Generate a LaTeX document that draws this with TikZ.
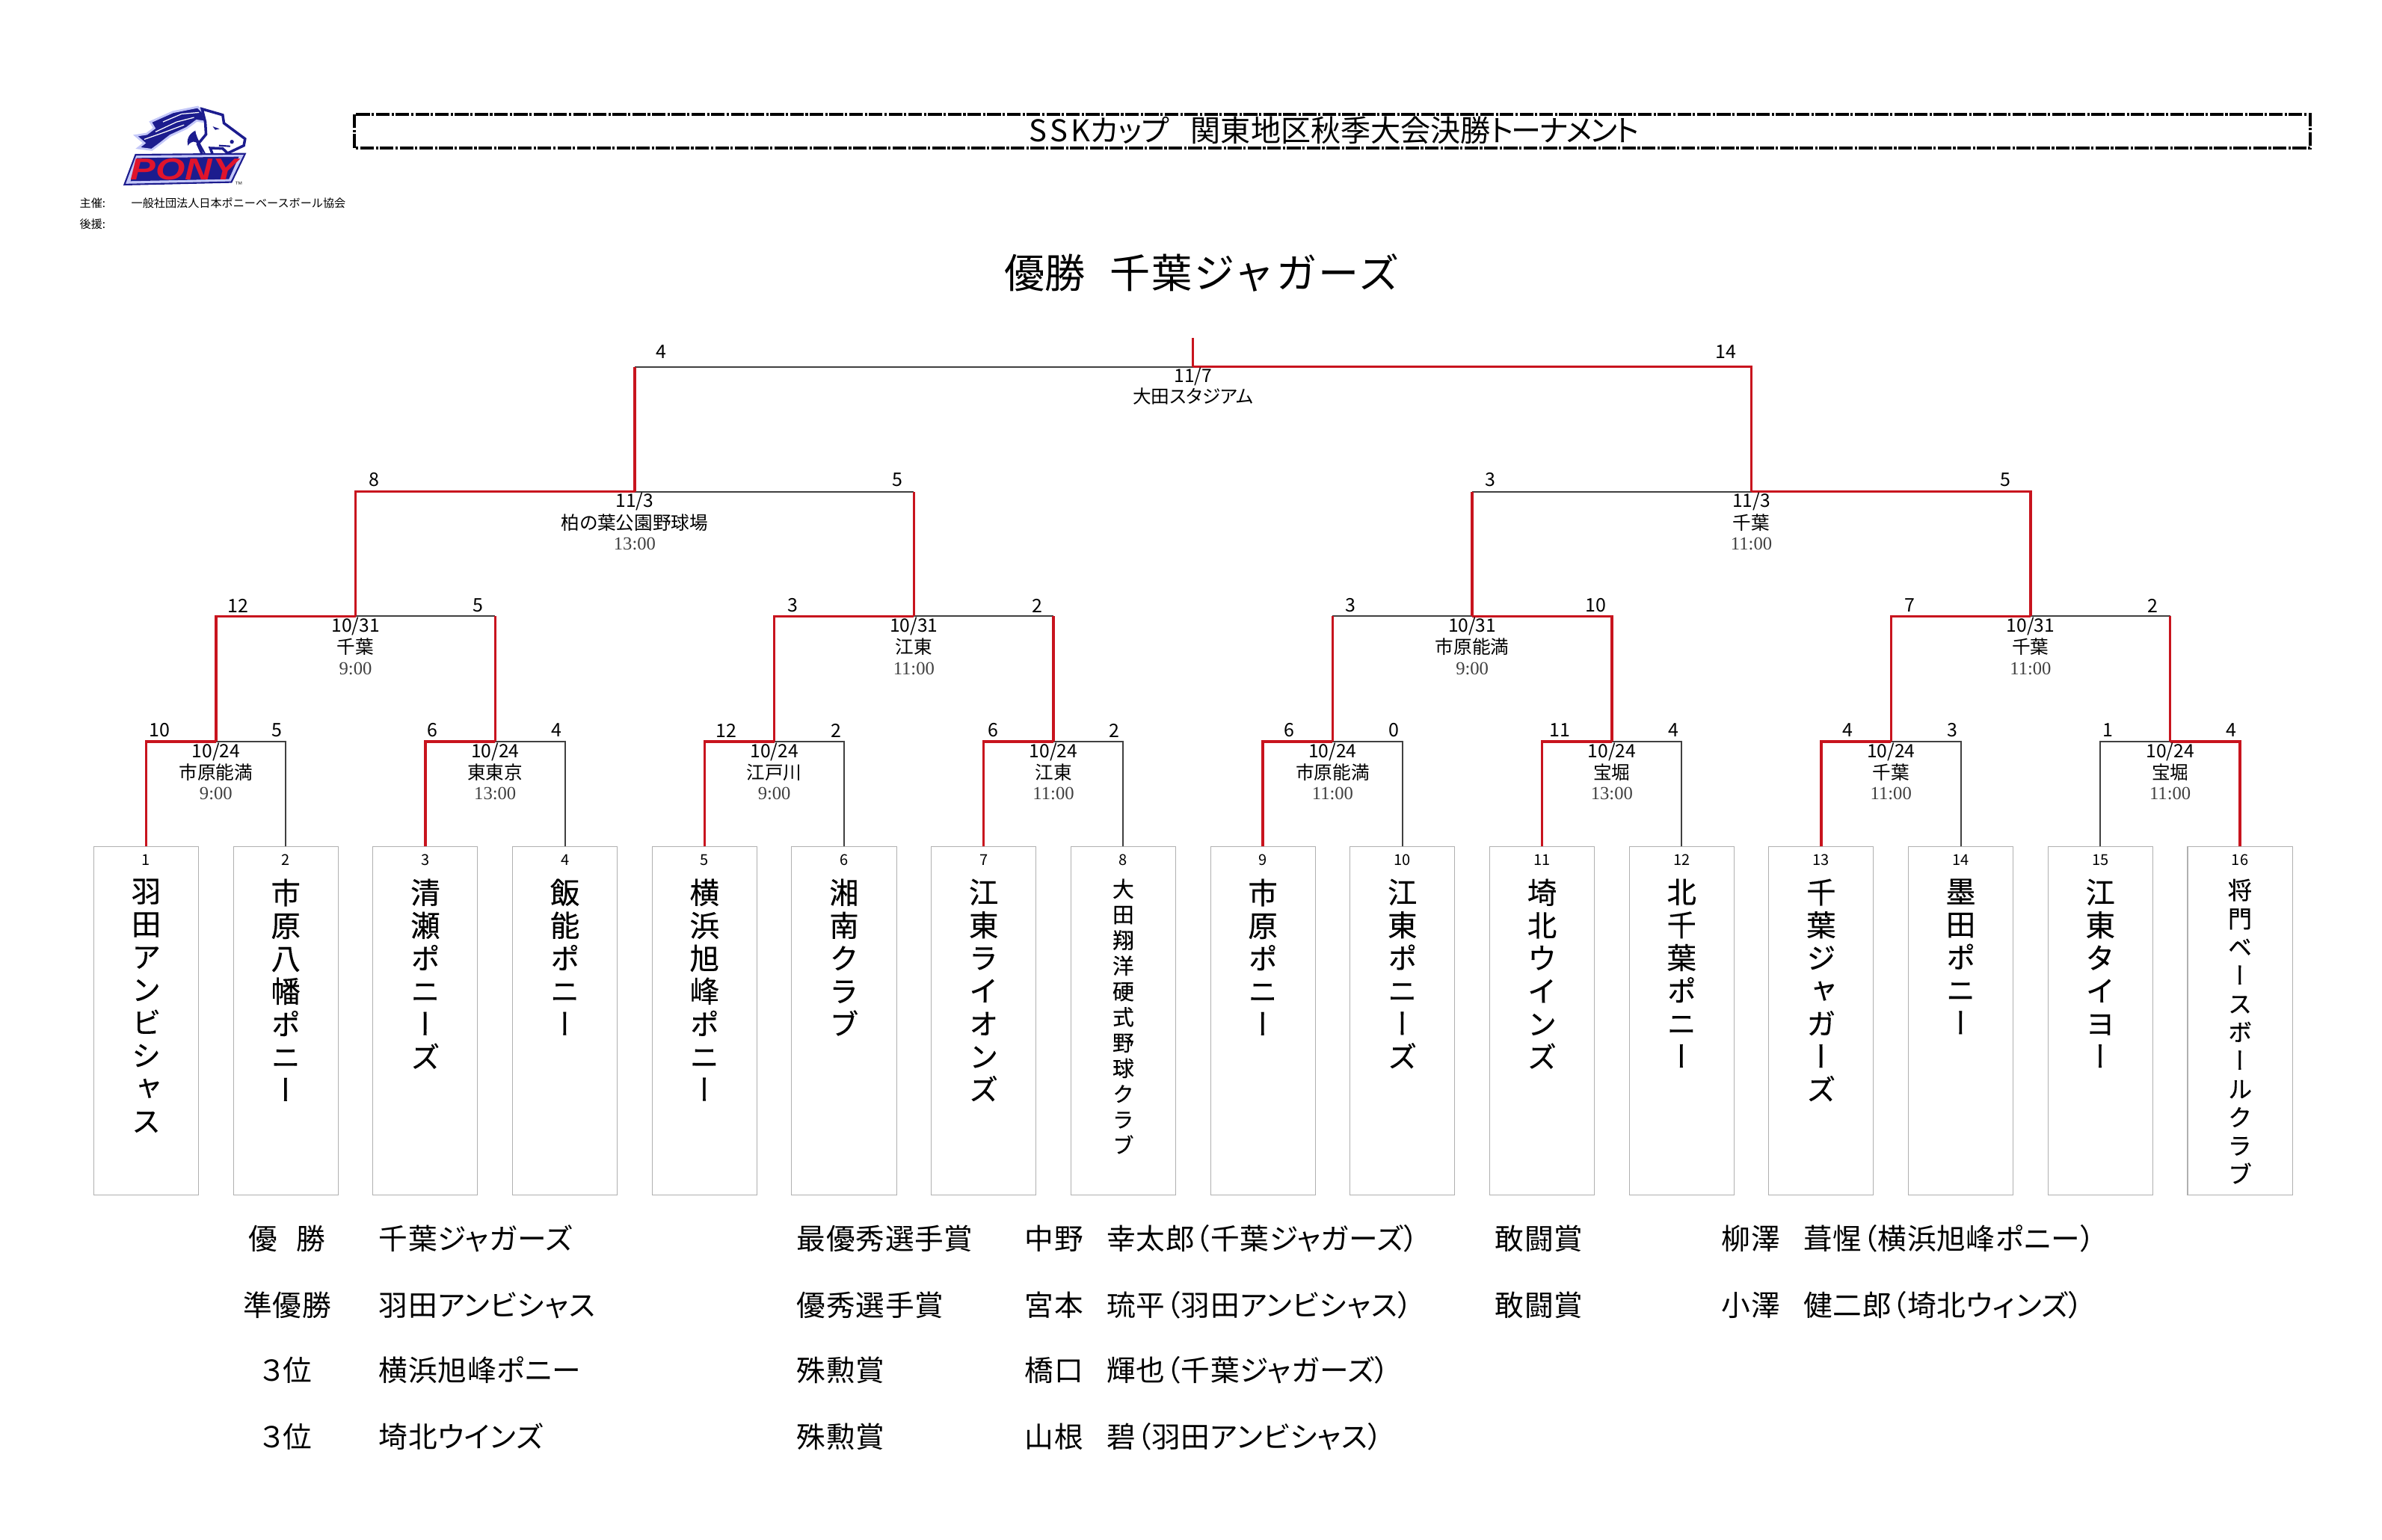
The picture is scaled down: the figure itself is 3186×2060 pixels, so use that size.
\documentclass[tikz,border=0pt]{standalone}
\usepackage{fontspec}
\setmainfont{Noto Sans CJK JP}
\newfontfamily\propfont[RawFeature=+palt]{Noto Sans CJK JP}
\newfontfamily\awardfont[RawFeature=+palt,LetterSpace=2]{Noto Sans CJK JP}
\newfontfamily\tatefont[RawFeature=+vert,FakeBold=0.3]{Noto Sans CJK JP}
\newfontfamily\timefont{Liberation Serif}
\newfontfamily\ponyfont{Liberation Sans}
\usetikzlibrary{positioning}
\definecolor{winred}{HTML}{C8141E}
\definecolor{losegray}{HTML}{404040}
\definecolor{boxgray}{HTML}{B0B0B0}
\definecolor{ponynavy}{HTML}{1C1C8E}
\definecolor{ponylight}{HTML}{C4C8F8}
\definecolor{ponyred}{HTML}{E0142C}
\makeatletter
\newcommand{\tate}[1]{\vtop{\@tfor\tc:=#1\do{\hbox to 1.2em{\hss\tc\hss}}}}
\makeatother
\tikzset{
  winline/.style={draw=winred, line width=0.95pt},
  loseline/.style={draw=losegray, line width=0.55pt},
  teambox/.style={draw=boxgray, line width=0.3pt, minimum width=1.4cm, minimum height=4.66cm, inner sep=0pt, anchor=north},
  teamno/.style={font=\fontsize{5.7pt}{7pt}\selectfont, inner sep=0pt},
  teamname/.style={font=\tatefont\fontsize{11.2pt}{12.5pt}\selectfont, inner sep=0pt, anchor=north},
  narrowname/.style={font=\tatefont\fontsize{8.2pt}{9.75pt}\selectfont, inner sep=0pt, anchor=north},
  widename/.style={font=\tatefont\fontsize{9.2pt}{10.8pt}\selectfont, inner sep=0pt, anchor=north},
  score/.style={font=\fontsize{7.1pt}{8pt}\selectfont, inner sep=0pt},
  gameinfo/.style={font=\propfont\fontsize{7pt}{7.8pt}\selectfont, align=center, inner sep=0pt},
  award/.style={font=\awardfont\fontsize{11pt}{13pt}\selectfont, text height=9.6pt, text depth=1.4pt, inner sep=0pt, anchor=west},
  awardmid/.style={award, anchor=center},
  sponsor/.style={font=\fontsize{4.3pt}{5pt}\selectfont, text height=3.8pt, text depth=0.5pt, inner sep=0pt, anchor=west},
  titleframe/.style={draw=black, line width=1.1pt, dash pattern=on 5.2pt off 0.7pt on 0.9pt off 0.7pt},
  titletext/.style={font=\propfont\fontsize{11.4pt}{13pt}\selectfont, text height=10pt, text depth=1.4pt, inner sep=0pt, anchor=west},
  champtext/.style={font=\fontsize{15.4pt}{18pt}\selectfont, text height=13.5pt, text depth=1.9pt, inner sep=0pt, anchor=west},
  ponytext/.style={font=\ponyfont\bfseries\itshape\fontsize{11.5pt}{12pt}\selectfont, text=ponyred, xscale=1.25, transform shape, inner sep=0pt},
  ponytm/.style={font=\ponyfont\fontsize{3pt}{3pt}\selectfont, text=losegray, inner sep=0pt}
}
\begin{document}
\begin{tikzpicture}[x=0.01cm,y=-0.01cm]
\useasboundingbox (0,0) rectangle (3186,2060);
\begin{scope}[x=0.003333cm,y=-0.003333cm,shift={(450,390)}]
  \filldraw[fill=ponynavy, draw=ponylight, line width=0.8pt] (155,100) -- (245,60) -- (345,40) -- (365,60) -- (375,100) -- (340,95) -- (300,125) -- (235,155) -- (190,190) -- (160,212) -- (105,205) -- (130,185) -- (95,155) -- (140,148) -- (170,125) -- cycle;
  \draw[white, line width=0.35pt] (350,62) -- (280,68) -- (205,100);
  \draw[white, line width=0.35pt] (330,82) -- (260,100) -- (175,140);
  \draw[white, line width=0.35pt] (290,112) -- (215,140) -- (130,170);
  \filldraw[fill=white, draw=ponynavy, line width=1pt] (362,48) -- (445,72) -- (450,105) -- (535,168) -- (530,195) -- (465,226) -- (445,207) -- (395,205) -- (405,232) -- (365,235) -- (345,190) -- (378,150) -- (375,100) -- cycle;
  \fill[ponynavy] (335,135) .. controls (305,150) and (300,175) .. (305,195) .. controls (320,175) and (335,175) .. (345,190) .. controls (355,205) and (365,225) .. (380,235) .. controls (365,200) and (340,170) .. (335,135) -- cycle;
  \fill[ponynavy] (405,118) -- (432,128) -- (415,132) -- cycle;
  \fill[ponynavy] (482,180) circle [radius=8];
  \draw[ponynavy, line width=0.6pt] (430,195) -- (475,198);
  \filldraw[fill=ponylight, draw=ponynavy, line width=0.6pt] (95,232) -- (535,228) -- (480,342) -- (50,352) -- cycle;
  \fill[ponynavy] (100,245) -- (510,240) -- (470,330) -- (75,338) -- cycle;
  \node[ponytext] (ponymark) at (290,290) {PONY};
  \node[ponytm] (ponytrade) at (510,352) {™};
\end{scope}
\node[sponsor] (hostlabel) at (106,272) {主催:};
\node[sponsor] (hostname) at (175,272) {一般社団法人日本ポニーベースボール協会};
\node[sponsor] (backlabel) at (106,300) {後援:};
\draw[titleframe] (474,153) rectangle (3090,198);
\node[titletext] (title) at (1376,174) {S\kern.1em S\kern.1em Kカップ　\kern-.28em関東地区秋季大会決勝{\addfontfeatures{LetterSpace=-6}トーナメント}};
\node[champtext] (champ) at (1343,365) {優勝　\kern-.4em{\addfontfeatures{LetterSpace=4}千葉ジャガーズ}};
\node[teambox] (team1) at (195.5,1132) {};
\node[teambox] (team2) at (382.2,1132) {};
\node[teambox] (team3) at (568.9,1132) {};
\node[teambox] (team4) at (755.6,1132) {};
\node[teambox] (team5) at (942.3,1132) {};
\node[teambox] (team6) at (1129,1132) {};
\node[teambox] (team7) at (1315.7,1132) {};
\node[teambox] (team8) at (1502.4,1132) {};
\node[teambox] (team9) at (1689.1,1132) {};
\node[teambox] (team10) at (1875.8,1132) {};
\node[teambox] (team11) at (2062.5,1132) {};
\node[teambox] (team12) at (2249.2,1132) {};
\node[teambox] (team13) at (2435.9,1132) {};
\node[teambox] (team14) at (2622.6,1132) {};
\node[teambox] (team15) at (2809.3,1132) {};
\node[teambox] (team16) at (2996,1132) {};
\node[teamno] (no1) at (195.5,1150) {1};
\node[teamno] (no2) at (382.2,1150) {2};
\node[teamno] (no3) at (568.9,1150) {3};
\node[teamno] (no4) at (755.6,1150) {4};
\node[teamno] (no5) at (942.3,1150) {5};
\node[teamno] (no6) at (1129,1150) {6};
\node[teamno] (no7) at (1315.7,1150) {7};
\node[teamno] (no8) at (1502.4,1150) {8};
\node[teamno] (no9) at (1689.1,1150) {9};
\node[teamno] (no10) at (1875.8,1150) {10};
\node[teamno] (no11) at (2062.5,1150) {11};
\node[teamno] (no12) at (2249.2,1150) {12};
\node[teamno] (no13) at (2435.9,1150) {13};
\node[teamno] (no14) at (2622.6,1150) {14};
\node[teamno] (no15) at (2809.3,1150) {15};
\node[teamno] (no16) at (2996,1150) {16};
\node[teamname] (name1) at (195.5,1175) {\tate{羽田アンビシャス}};
\node[teamname] (name2) at (382.2,1175) {\tate{市原八幡ポニー}};
\node[teamname] (name3) at (568.9,1175) {\tate{清瀬ポニーズ}};
\node[teamname] (name4) at (755.6,1175) {\tate{飯能ポニー}};
\node[teamname] (name5) at (942.3,1175) {\tate{横浜旭峰ポニー}};
\node[teamname] (name6) at (1129,1175) {\tate{湘南クラブ}};
\node[teamname] (name7) at (1315.7,1175) {\tate{江東ライオンズ}};
\node[narrowname] (name8) at (1502.4,1175) {\tate{大田翔洋硬式野球クラブ}};
\node[teamname] (name9) at (1689.1,1175) {\tate{市原ポニー}};
\node[teamname] (name10) at (1875.8,1175) {\tate{江東ポニーズ}};
\node[teamname] (name11) at (2062.5,1175) {\tate{埼北ウインズ}};
\node[teamname] (name12) at (2249.2,1175) {\tate{北千葉ポニー}};
\node[teamname] (name13) at (2435.9,1175) {\tate{千葉ジャガーズ}};
\node[teamname] (name14) at (2622.6,1175) {\tate{墨田ポニー}};
\node[teamname] (name15) at (2809.3,1175) {\tate{江東タイヨー}};
\node[widename] (name16) at (2996,1175) {\tate{将門ベースボールクラブ}};
\coordinate (game1) at (288.85,992);
\coordinate (game2) at (662.25,992);
\coordinate (game3) at (1035.65,992);
\coordinate (game4) at (1409.05,992);
\coordinate (game5) at (1782.45,992);
\coordinate (game6) at (2155.85,992);
\coordinate (game7) at (2529.25,992);
\coordinate (game8) at (2902.65,992);
\coordinate (game9) at (475.55,824.3);
\coordinate (game10) at (1222.35,824.3);
\coordinate (game11) at (1969.15,824.3);
\coordinate (game12) at (2715.95,824.3);
\coordinate (game13) at (848.95,657.7);
\coordinate (game14) at (2342.55,657.7);
\coordinate (game15) at (1595.75,490.7);
\coordinate (top) at (1595.75,452);
\draw[loseline] (team2.north) |- (game1);
\draw[loseline] (team4.north) |- (game2);
\draw[loseline] (team6.north) |- (game3);
\draw[loseline] (team8.north) |- (game4);
\draw[loseline] (team10.north) |- (game5);
\draw[loseline] (team12.north) |- (game6);
\draw[loseline] (team14.north) |- (game7);
\draw[loseline] (team15.north) |- (game8);
\draw[loseline] (game2 |- game9) -- (game9);
\draw[loseline] (game4 |- game10) -- (game10);
\draw[loseline] (game5 |- game11) -- (game11);
\draw[loseline] (game8 |- game12) -- (game12);
\draw[loseline] (game10 |- game13) -- (game13);
\draw[loseline] (game11 |- game14) -- (game14);
\draw[loseline] (game13 |- game15) -- (game15);
\draw[winline] (team1.north) |- (game1);
\draw[winline] (team3.north) |- (game2);
\draw[winline] (team5.north) |- (game3);
\draw[winline] (team7.north) |- (game4);
\draw[winline] (team9.north) |- (game5);
\draw[winline] (team11.north) |- (game6);
\draw[winline] (team13.north) |- (game7);
\draw[winline] (team16.north) |- (game8);
\draw[winline] (game1) |- (game9);
\draw[winline] (game2) -- (game2 |- game9);
\draw[winline] (game3) |- (game10);
\draw[winline] (game4) -- (game4 |- game10);
\draw[winline] (game5) -- (game5 |- game11);
\draw[winline] (game6) |- (game11);
\draw[winline] (game7) |- (game12);
\draw[winline] (game8) -- (game8 |- game12);
\draw[winline] (game9) |- (game13);
\draw[winline] (game10) -- (game10 |- game13);
\draw[winline] (game11) -- (game11 |- game14);
\draw[winline] (game12) |- (game14);
\draw[winline] (game13) -- (game13 |- game15);
\draw[winline] (game14) |- (game15);
\draw[winline] (game15) -- (top);
\node[score] (score1a) at (213,977) {10};
\node[score] (score1b) at (370,977) {5};
\node[score] (score2a) at (578,977) {6};
\node[score] (score2b) at (744,977) {4};
\node[score] (score3a) at (971,977) {12};
\node[score] (score3b) at (1118,977) {2};
\node[score] (score4a) at (1328,977) {6};
\node[score] (score4b) at (1490,977) {2};
\node[score] (score5a) at (1724,977) {6};
\node[score] (score5b) at (1864,977) {0};
\node[score] (score6a) at (2086,977) {11};
\node[score] (score6b) at (2238,977) {4};
\node[score] (score7a) at (2471,977) {4};
\node[score] (score7b) at (2611,977) {3};
\node[score] (score8a) at (2819,977) {1};
\node[score] (score8b) at (2984,977) {4};
\node[score] (score9a) at (318,810) {12};
\node[score] (score9b) at (639,810) {5};
\node[score] (score10a) at (1060,810) {3};
\node[score] (score10b) at (1387,810) {2};
\node[score] (score11a) at (1806,810) {3};
\node[score] (score11b) at (2134,810) {10};
\node[score] (score12a) at (2554,810) {7};
\node[score] (score12b) at (2879,810) {2};
\node[score] (score13a) at (500,642) {8};
\node[score] (score13b) at (1200,642) {5};
\node[score] (score14a) at (1993,642) {3};
\node[score] (score14b) at (2682,642) {5};
\node[score] (score15a) at (884,471) {4};
\node[score] (score15b) at (2308,471) {14};
\node[gameinfo, below=0.01cm of game1] (info1) {10/24\\[0.5pt]市原能満\\{\timefont\color{losegray}9:00}};
\node[gameinfo, below=0.01cm of game2] (info2) {10/24\\[0.5pt]東東京\\{\timefont\color{losegray}13:00}};
\node[gameinfo, below=0.01cm of game3] (info3) {10/24\\[0.5pt]江戸川\\{\timefont\color{losegray}9:00}};
\node[gameinfo, below=0.01cm of game4] (info4) {10/24\\[0.5pt]江東\\{\timefont\color{losegray}11:00}};
\node[gameinfo, below=0.01cm of game5] (info5) {10/24\\[0.5pt]市原能満\\{\timefont\color{losegray}11:00}};
\node[gameinfo, below=0.01cm of game6] (info6) {10/24\\[0.5pt]宝堀\\{\timefont\color{losegray}13:00}};
\node[gameinfo, below=0.01cm of game7] (info7) {10/24\\[0.5pt]千葉\\{\timefont\color{losegray}11:00}};
\node[gameinfo, below=0.01cm of game8] (info8) {10/24\\[0.5pt]宝堀\\{\timefont\color{losegray}11:00}};
\node[gameinfo, below=0.01cm of game9] (info9) {10/31\\[0.5pt]千葉\\{\timefont\color{losegray}9:00}};
\node[gameinfo, below=0.01cm of game10] (info10) {10/31\\[0.5pt]江東\\{\timefont\color{losegray}11:00}};
\node[gameinfo, below=0.01cm of game11] (info11) {10/31\\[0.5pt]市原能満\\{\timefont\color{losegray}9:00}};
\node[gameinfo, below=0.01cm of game12] (info12) {10/31\\[0.5pt]千葉\\{\timefont\color{losegray}11:00}};
\node[gameinfo, below=0.01cm of game13] (info13) {11/3\\[0.5pt]柏の葉公園野球場\\{\timefont\color{losegray}13:00}};
\node[gameinfo, below=0.01cm of game14] (info14) {11/3\\[0.5pt]千葉\\{\timefont\color{losegray}11:00}};
\node[gameinfo, below=0.01cm of game15] (info15) {11/7\\大田スタジアム};
\node[awardmid] (prize1) at (384,1657) {優　\kern-.35em勝};
\node[awardmid] (prize2) at (384,1746) {準優勝};
\node[awardmid] (prize3) at (383,1833) {３位};
\node[awardmid] (prize4) at (383,1922) {３位};
\node[award] (winner1) at (506,1657) {千葉ジャガーズ};
\node[award] (winner2) at (506,1746) {羽田アンビシャス};
\node[award] (winner3) at (506,1833) {横浜旭峰ポニー};
\node[award] (winner4) at (506,1922) {埼北ウインズ};
\node[award] (mvp1) at (1065,1657) {最優秀選手賞};
\node[award] (mvp2) at (1065,1746) {優秀選手賞};
\node[award] (mvp3) at (1065,1833) {殊勲賞};
\node[award] (mvp4) at (1065,1922) {殊勲賞};
\node[award] (player1) at (1370,1657) {中野　\kern-.2em幸太郎（千葉ジャガーズ）};
\node[award] (player2) at (1370,1746) {宮本　\kern-.2em琉平（羽田アンビシャス）};
\node[award] (player3) at (1370,1833) {橋口　\kern-.2em輝也（千葉ジャガーズ）};
\node[award] (player4) at (1370,1922) {山根　\kern-.2em碧（羽田アンビシャス）};
\node[award] (fight1) at (1999,1657) {敢闘賞};
\node[award] (fight2) at (1999,1746) {敢闘賞};
\node[award] (player5) at (2302,1657) {柳澤　\kern-.2em葺惺（横浜旭峰ポニー）};
\node[award] (player6) at (2302,1746) {小澤　\kern-.2em健二郎（埼北ウィンズ）};
\end{tikzpicture}
\end{document}
